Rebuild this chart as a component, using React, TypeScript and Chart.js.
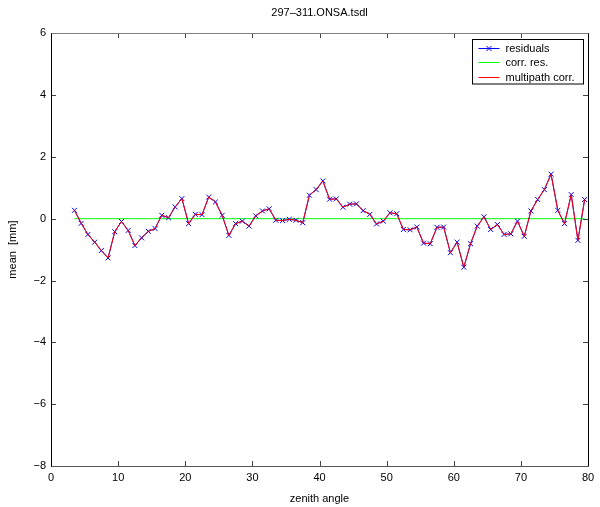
import { useEffect, useRef } from "react";
import { Chart, registerables } from "chart.js";

Chart.register(...registerables);

const chartTitle = "297–311.ONSA.tsdl";
const xTitle = "zenith angle";
const yTitle = "mean  [mm]";

const xTicks = [0, 10, 20, 30, 40, 50, 60, 70, 80];
const yTicks = [-8, -6, -4, -2, 0, 2, 4, 6];

const zenithAngles = [
  3.5, 4.5, 5.5, 6.5, 7.5, 8.5, 9.5, 10.5, 11.5, 12.5, 13.5,
  14.5, 15.5, 16.5, 17.5, 18.5, 19.5, 20.5, 21.5, 22.5, 23.5, 24.5,
  25.5, 26.5, 27.5, 28.5, 29.5, 30.5, 31.5, 32.5, 33.5, 34.5, 35.5,
  36.5, 37.5, 38.5, 39.5, 40.5, 41.5, 42.5, 43.5, 44.5, 45.5, 46.5,
  47.5, 48.5, 49.5, 50.5, 51.5, 52.5, 53.5, 54.5, 55.5, 56.5, 57.5,
  58.5, 59.5, 60.5, 61.5, 62.5, 63.5, 64.5, 65.5, 66.5, 67.5, 68.5,
  69.5, 70.5, 71.5, 72.5, 73.5, 74.5, 75.5, 76.5, 77.5, 78.5, 79.5,
];

const residuals = [
  0.27, -0.15, -0.51, -0.76, -1.03, -1.27, -0.42, -0.09, -0.38, -0.87, -0.62,
  -0.41, -0.32, 0.11, 0.03, 0.38, 0.65, -0.16, 0.14, 0.13, 0.7, 0.54,
  0.11, -0.54, -0.16, -0.08, -0.24, 0.09, 0.25, 0.32, -0.05, -0.06, -0.02,
  -0.05, -0.13, 0.76, 0.94, 1.22, 0.63, 0.64, 0.37, 0.47, 0.48, 0.26,
  0.14, -0.17, -0.08, 0.19, 0.16, -0.35, -0.36, -0.27, -0.79, -0.81, -0.28,
  -0.27, -1.1, -0.76, -1.57, -0.81, -0.24, 0.06, -0.35, -0.19, -0.51, -0.49,
  -0.08, -0.57, 0.25, 0.62, 0.94, 1.44, 0.27, -0.16, 0.78, -0.7, 0.62,
];

const corrRes = [
  0, 0, 0, 0, 0, 0, 0, 0, 0, 0, 0,
  0, 0, 0, 0, 0, 0, 0, 0, 0, 0, 0,
  0, 0, 0, 0, 0, 0, 0, 0, 0, 0, 0,
  0, 0, 0, 0, 0, 0, 0, 0, 0, 0, 0,
  0, 0, 0, 0, 0, 0, 0, 0, 0, 0, 0,
  0, 0, 0, 0, 0, 0, 0, 0, 0, 0, 0,
  0, 0, 0, 0, 0, 0, 0, 0, 0, 0, 0,
];

const multipathCorr = [
  0.27, -0.15, -0.51, -0.76, -1.03, -1.27, -0.42, -0.09, -0.38, -0.87, -0.62,
  -0.41, -0.32, 0.11, 0.03, 0.38, 0.65, -0.16, 0.14, 0.13, 0.7, 0.54,
  0.11, -0.54, -0.16, -0.08, -0.24, 0.09, 0.25, 0.32, -0.05, -0.06, -0.02,
  -0.05, -0.13, 0.76, 0.94, 1.22, 0.63, 0.64, 0.37, 0.47, 0.48, 0.26,
  0.14, -0.17, -0.08, 0.19, 0.16, -0.35, -0.36, -0.27, -0.79, -0.81, -0.28,
  -0.27, -1.1, -0.76, -1.57, -0.81, -0.24, 0.06, -0.35, -0.19, -0.51, -0.49,
  -0.08, -0.57, 0.25, 0.62, 0.94, 1.44, 0.27, -0.16, 0.78, -0.7, 0.62,
];

const FONT = "'Liberation Sans', Arial, Helvetica, sans-serif";

const toPoints = (ys: number[]) => zenithAngles.map((x, i) => ({ x, y: ys[i] }));
const fmt = (v: number | string) => String(v).replace("-", "\u2212");

// matlab-style box with inward ticks, plus the legend box
const framePlugin = {
  id: "frame",
  afterDatasetsDraw(chart: any) {
    const { ctx, chartArea: a, scales } = chart;
    const seg = (x1: number, y1: number, x2: number, y2: number) => {
      ctx.beginPath();
      ctx.moveTo(x1, y1);
      ctx.lineTo(x2, y2);
      ctx.stroke();
    };
    ctx.save();
    ctx.lineWidth = 1;
    ctx.strokeStyle = "#444";
    for (const v of xTicks) {
      const px = Math.round(scales.x.getPixelForValue(v)) + 0.5;
      seg(px, a.bottom, px, a.bottom - 5);
      seg(px, a.top, px, a.top + 5);
    }
    for (const v of yTicks) {
      const py = Math.round(scales.y.getPixelForValue(v)) + 0.5;
      seg(a.left, py, a.left + 5, py);
      seg(a.right, py, a.right - 5, py);
    }
    const l = Math.round(a.left) + 0.5;
    const r = Math.round(a.right) + 0.5;
    const t = Math.round(a.top) + 0.5;
    const b = Math.round(a.bottom) + 0.5;
    ctx.strokeStyle = "#808080";
    seg(l, t, r, t);
    ctx.strokeStyle = "#555";
    seg(l, b, r, b);
    ctx.strokeStyle = "#000";
    seg(l, t, l, b);
    seg(r, t, r, b);
    ctx.restore();
  },
  afterDraw(chart: any) {
    const { ctx, chartArea: a } = chart;
    const sets = chart.data.datasets;
    ctx.save();
    ctx.font = `11px ${FONT}`;
    const textW = Math.max(...sets.map((d: any) => ctx.measureText(d.label).width));
    const rowH = 14.5;
    const w = 33 + textW + 9;
    const h = rowH * sets.length + 1;
    const right = Math.round(a.right - 5) + 0.5;
    const top = Math.round(a.top + 6) + 0.5;
    const left = Math.round(right - w) + 0.5;
    ctx.fillStyle = "#fff";
    ctx.fillRect(left, top, right - left, h);
    ctx.strokeStyle = "#000";
    ctx.lineWidth = 1;
    ctx.strokeRect(left, top, right - left, h);
    ctx.textBaseline = "middle";
    ctx.textAlign = "left";
    sets.forEach((d: any, i: number) => {
      const cy = Math.round(top + 8 + i * rowH) + 0.5;
      ctx.strokeStyle = d.borderColor;
      ctx.beginPath();
      ctx.moveTo(left + 6, cy);
      ctx.lineTo(left + 27, cy);
      ctx.stroke();
      if (d.pointRadius > 0) {
        const cx = left + 16.5;
        const s = 2.5;
        ctx.beginPath();
        ctx.moveTo(cx - s, cy - s);
        ctx.lineTo(cx + s, cy + s);
        ctx.moveTo(cx - s, cy + s);
        ctx.lineTo(cx + s, cy - s);
        ctx.stroke();
      }
      ctx.fillStyle = "#000";
      ctx.fillText(d.label, left + 33, cy);
    });
    ctx.restore();
  },
};

function ResidualChart() {
  const canvasRef = useRef<HTMLCanvasElement>(null);
  const chartRef = useRef<Chart | null>(null);

  useEffect(() => {
    if (!canvasRef.current) return;
    document.body.style.margin = "0";

    const tickFont = { family: FONT, size: 11 };

    chartRef.current?.destroy();
    chartRef.current = new Chart(canvasRef.current, {
      type: "line",
      data: {
        datasets: [
          {
            label: "residuals",
            data: toPoints(residuals),
            borderColor: "#0000ff",
            backgroundColor: "#0000ff",
            borderWidth: 1,
            pointStyle: "crossRot",
            pointRadius: 3.5,
            pointBorderWidth: 1,
            tension: 0,
            order: 1,
          },
          {
            label: "corr. res.",
            data: toPoints(corrRes),
            borderColor: "#00ff00",
            borderWidth: 1,
            pointRadius: 0,
            tension: 0,
            order: 2,
          },
          {
            label: "multipath corr.",
            data: toPoints(multipathCorr),
            borderColor: "#ff0000",
            borderWidth: 1,
            pointRadius: 0,
            tension: 0,
            order: 0,
          },
        ],
      },
      options: {
        responsive: false,
        animation: false,
        layout: { padding: { left: 0, right: 12, top: 0, bottom: 0 } },
        plugins: {
          legend: { display: false },
          tooltip: { enabled: false },
          title: {
            display: true,
            text: chartTitle,
            fullSize: false,
            color: "#000",
            font: { family: FONT, size: 11, weight: "normal" },
            padding: { top: 6, bottom: 14 },
          },
        },
        scales: {
          x: {
            type: "linear",
            min: 0,
            max: 80,
            afterBuildTicks: (s: any) => {
              s.ticks = xTicks.map((value) => ({ value }));
            },
            afterFit: (s: any) => {
              s.height = 41;
            },
            grid: { display: false, drawTicks: false },
            border: { display: false },
            ticks: { color: "#000", font: tickFont, padding: 5, maxRotation: 0, autoSkip: false, callback: (v: any) => fmt(v) },
            title: {
              display: true,
              text: xTitle,
              color: "#000",
              font: tickFont,
              padding: { top: 4, bottom: 1 },
            },
          },
          y: {
            type: "linear",
            min: -8,
            max: 6,
            afterBuildTicks: (s: any) => {
              s.ticks = yTicks.map((value) => ({ value }));
            },
            afterFit: (s: any) => {
              s.width = 51;
            },
            grid: { display: false, drawTicks: false },
            border: { display: false },
            ticks: { color: "#000", font: tickFont, padding: 5, autoSkip: false, callback: (v: any) => fmt(v) },
            title: {
              display: true,
              text: yTitle,
              color: "#000",
              font: tickFont,
              padding: { top: 6, bottom: 0 },
            },
          },
        },
      },
      plugins: [framePlugin],
    });

    return () => {
      chartRef.current?.destroy();
    };
  }, []);

  return (
    <div style={{ width: 600, height: 507, background: "#fff" }}>
      <canvas ref={canvasRef} width={600} height={507} />
    </div>
  );
}

export default function App() {
  return <ResidualChart />;
}
